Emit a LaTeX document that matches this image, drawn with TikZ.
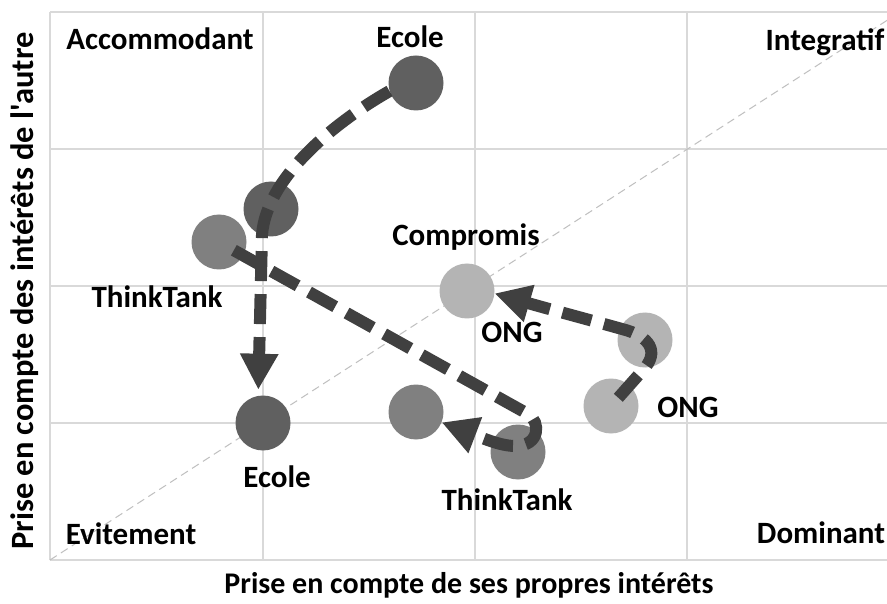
\documentclass[tikz,border=0pt]{standalone}
\usepackage{fontspec}
\setmainfont{Carlito}[Ligatures=TeXOff]
\usetikzlibrary{arrows.meta}
\definecolor{ecol}{RGB}{96,96,96}
\definecolor{think}{RGB}{128,128,128}
\definecolor{ongc}{RGB}{180,180,180}
\definecolor{arrc}{RGB}{64,64,64}
\definecolor{gridc}{RGB}{217,217,217}
\definecolor{diagc}{RGB}{191,191,191}
\begin{document}
\begin{tikzpicture}[x=1pt,y=-1pt,
  lbl/.style={font=\fontsize{31}{37}\selectfont\bfseries, anchor=base, inner sep=0pt},
  axislbl/.style={font=\fontsize{30}{36}\selectfont\bfseries, inner sep=0pt},
  dot/.style={circle, minimum size=55pt, inner sep=0pt},
  gridline/.style={draw=gridc, line width=1.5pt},
  patharrow/.style={draw=arrc, line width=12pt, dash pattern=on 30pt off 13pt,
    -{Triangle[length=36pt,width=36pt]}}]
\useasboundingbox (0,0) rectangle (887,604);
\fill[white] (0,0) rectangle (887,604);
% grid
\foreach \xx in {50,263,475,687} \draw[gridline] (\xx,12) -- (\xx,560);
\foreach \yy in {12,149,286,423,560} \draw[gridline] (50,\yy) -- (887,\yy);
\draw[diagc, line width=1pt, dash pattern=on 8pt off 5pt] (50,560) -- (887,20.4);
% circles
\node[dot, fill=ecol] (e1) at (416,83) {};
\node[dot, fill=ecol] (e2) at (271,209) {};
\node[dot, fill=ecol] (e3) at (263,423) {};
\node[dot, fill=think] (t1) at (219,242) {};
\node[dot, fill=think] (t2) at (416,412) {};
\node[dot, fill=think] (t3) at (518,452) {};
\node[dot, fill=ongc] (o1) at (467,291) {};
\node[dot, fill=ongc] (o2) at (645,340) {};
\node[dot, fill=ongc] (o3) at (611,406) {};
% arrows
\draw[patharrow, shorten >=6pt] (e1.197) .. controls (330,125) and (266,180) .. (262,235) -- (e3.100);
\draw[patharrow, shorten <=17pt] (t1.center) -- (528,414) .. controls (541,422) and (540,446) .. (515,446) .. controls (500,446) and (480,437) .. (t2.-22);
\draw[patharrow, shorten <=11pt] (o3.center) -- (643,370) .. controls (660,352) and (650,336) .. (622,329) .. controls (590,320) and (545,308) .. (o1.-5);
% labels
\node[lbl] (le1) at (410,48) {Ecole};
\node[lbl] (lacc) at (160,50) {Accommodant};
\node[lbl] (lint) at (825,51) {Integratif};
\node[lbl] (lcomp) at (466,246) {Compromis};
\node[lbl] (lt1) at (157,308) {ThinkTank};
\node[lbl] (lo1) at (512,342) {ONG};
\node[lbl] (lo3) at (688,417) {ONG};
\node[lbl] (le3) at (277,487) {Ecole};
\node[lbl] (lt3) at (507,510) {ThinkTank};
\node[lbl] (lev) at (131,544) {Evitement};
\node[lbl] (ldom) at (821,543) {Dominant};
\node[axislbl] (xl) at (469,585) {Prise en compte de ses propres intérêts};
\node[axislbl, font=\fontsize{32.5}{38}\selectfont\bfseries, rotate=90] (yl) at (25,291) {Prise en compte des intérêts de l'autre};
\end{tikzpicture}
\end{document}
